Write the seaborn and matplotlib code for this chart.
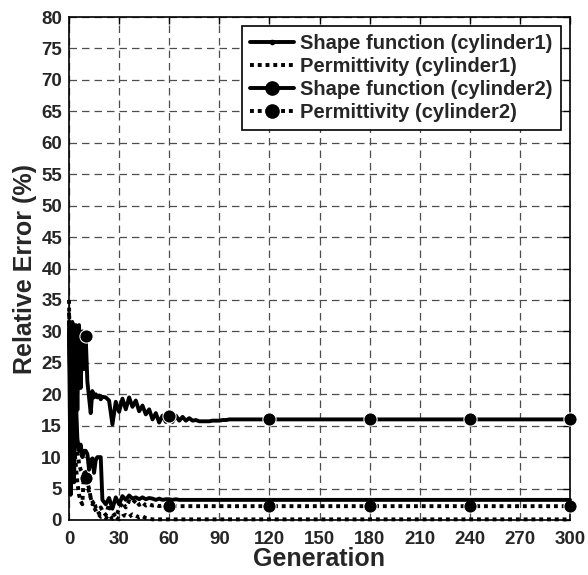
import matplotlib
matplotlib.use("Agg")
import matplotlib.pyplot as plt
from matplotlib.lines import Line2D
import seaborn as sns
import pandas as pd

# Generations at which the relative error was recorded
generations = (
    [0, 1, 2, 3, 4, 5, 6, 7, 8, 9, 10, 11, 12, 13, 14, 15, 16, 17, 18, 19, 20]
    + [22, 24, 26, 28, 30, 32, 34, 36, 38, 40, 42, 44, 46, 48, 50, 52, 54, 56, 58, 60]
    + [62, 64, 66, 68, 70, 72, 74, 76, 78, 80, 82, 84, 86, 88, 90, 92, 94, 96, 98, 100]
    + [120, 180, 240, 300]
)

shape_cyl1 = (
    [30.0, 4.0, 28.0, 6.0, 20.0, 13.0, 11.0, 12.0, 10.0, 11.0, 11.0, 10.5, 8.0, 9.5, 9.8, 7.5, 9.5, 10.0, 10.0, 10.0, 3.2]
    + [2.5, 3.5, 1.8, 3.6, 2.5, 3.8, 3.2, 3.9, 3.4, 3.6, 3.3, 3.6, 3.3, 3.5, 3.4, 3.2, 3.4, 3.2, 3.3, 3.3]
    + [3.2, 3.3, 3.2, 3.2, 3.2, 3.2, 3.2, 3.2, 3.2, 3.2, 3.2, 3.2, 3.2, 3.2, 3.2, 3.2, 3.2, 3.2, 3.2, 3.2]
    + [3.2, 3.2, 3.2, 3.2]
)

perm_cyl1 = (
    [35.0, 16.0, 14.0, 12.0, 9.0, 6.0, 4.0, 3.0, 2.5, 8.0, 7.5, 6.0, 5.0, 3.5, 3.0, 2.0, 1.5, 1.0, 0.8, 0.5, 0.6]
    + [0.3, 0.8, 0.2, 0.5, 0.1, 0.6, 0.8, 0.5, 0.9, 0.7, 0.4, 0.6, 0.3, 0.2, 0.1, 0.1, 0.1, 0.1, 0.1, 0.1]
    + [0.1, 0.1, 0.1, 0.1, 0.1, 0.1, 0.1, 0.1, 0.1, 0.1, 0.1, 0.1, 0.1, 0.1, 0.1, 0.1, 0.1, 0.1, 0.1, 0.1]
    + [0.1, 0.1, 0.1, 0.1]
)

shape_cyl2 = (
    [31.5, 17.0, 31.5, 18.0, 31.0, 17.5, 31.0, 21.0, 30.0, 24.0, 29.2, 22.0, 19.5, 17.0, 20.5, 19.5, 20.0, 19.5, 19.8, 19.2, 19.6]
    + [19.5, 19.0, 15.2, 18.8, 17.2, 19.3, 17.6, 19.5, 18.0, 19.0, 17.3, 18.2, 16.8, 17.6, 16.0, 17.0, 15.5, 16.6, 15.6, 16.6]
    + [15.6, 16.6, 15.8, 16.4, 15.8, 16.2, 15.8, 15.9, 15.7, 15.7, 15.7, 15.7, 15.8, 15.8, 15.8, 15.9, 15.9, 16.0, 16.0, 16.0]
    + [16.0, 16.0, 16.0, 16.0]
)

perm_cyl2 = (
    [33.0, 17.0, 15.0, 13.0, 12.0, 11.0, 9.0, 8.0, 7.5, 7.0, 6.7, 5.5, 4.5, 3.5, 2.5, 3.0, 2.0, 1.5, 1.0, 2.0, 1.5]
    + [0.8, 2.5, 1.2, 0.5, 1.8, 2.8, 2.0, 3.0, 2.6, 3.2, 2.4, 2.8, 2.3, 2.5, 2.3, 2.4, 2.2, 2.3, 2.2, 2.2]
    + [2.2, 2.2, 2.2, 2.2, 2.2, 2.2, 2.2, 2.2, 2.2, 2.2, 2.2, 2.2, 2.2, 2.2, 2.2, 2.2, 2.2, 2.2, 2.2, 2.2]
    + [2.2, 2.2, 2.2, 2.2]
)

series_labels = [
    "Shape function (cylinder1)",
    "Permittivity (cylinder1)",
    "Shape function (cylinder2)",
    "Permittivity (cylinder2)",
]

x_ticks = [0, 30, 60, 90, 120, 150, 180, 210, 240, 270, 300]
y_ticks = [0, 5, 10, 15, 20, 25, 30, 35, 40, 45, 50, 55, 60, 65, 70, 75, 80]

sns.set_style("white")
plt.rcParams["font.family"] = ["Liberation Sans", "DejaVu Sans"]
plt.rcParams["font.weight"] = "bold"

df = pd.DataFrame({
    "Generation": generations,
    series_labels[0]: shape_cyl1,
    series_labels[1]: perm_cyl1,
    series_labels[2]: shape_cyl2,
    series_labels[3]: perm_cyl2,
})

fig = plt.figure(figsize=(5.88, 5.75), dpi=100)
ax = fig.add_axes([69 / 588, 55 / 575, 501 / 588, 503 / 575])

# circle markers at generations 10, 60, 120, 180, 240, 300
mark_idx = [generations.index(g) for g in (10, 60, 120, 180, 240, 300)]

lw = 2.8
dots = (1, 1)
styles = [
    dict(linestyle="-"),
    dict(linestyle=(0, dots), dash_capstyle="butt"),
    dict(linestyle="-", marker="o", markersize=9.5, markevery=mark_idx),
    dict(linestyle=(0, dots), dash_capstyle="butt", marker="o", markersize=9.5, markevery=mark_idx),
]
for i in [2, 3, 0, 1]:
    sns.lineplot(data=df, x="Generation", y=series_labels[i], ax=ax, color="black",
                 linewidth=lw, clip_on=False, zorder=3, **styles[i])

ax.set_xlim(0, 300)
ax.set_ylim(0, 80)
ax.set_xticks(x_ticks)
ax.set_yticks(y_ticks)
ax.tick_params(direction="in", length=5, width=1, top=True, right=True,
               labelsize=13.5, color="black")
ax.tick_params(axis="x", pad=8)
ax.tick_params(axis="y", pad=5)
for lab in ax.get_xticklabels() + ax.get_yticklabels():
    lab.set_fontweight("bold")

ax.grid(True, color="0.3", linestyle=(0, (6, 4)), linewidth=0.9)
for sp in ax.spines.values():
    sp.set_color("black")
    sp.set_linewidth(1.2)

ax.set_xlabel("Generation", fontsize=18, fontweight="bold", labelpad=-1)
ax.set_ylabel("Relative Error (%)", fontsize=18, fontweight="bold", labelpad=3)

handles = [
    Line2D([], [], color="black", lw=lw, marker=".", markersize=6),
    Line2D([], [], color="black", lw=lw, linestyle=(0, dots), dash_capstyle="butt"),
    Line2D([], [], color="black", lw=lw, marker="o", markersize=9.5),
    Line2D([], [], color="black", lw=lw, linestyle=(0, dots), dash_capstyle="butt",
           marker="o", markersize=9.5),
]
leg = ax.legend(handles, series_labels, loc="upper right",
                prop={"weight": "bold", "size": 14.5}, frameon=True, fancybox=False,
                edgecolor="black", framealpha=1, handlelength=2.2, handletextpad=0.3,
                borderpad=0.4, labelspacing=0.2, borderaxespad=0.45)
leg.get_frame().set_linewidth(1.2)

fig.savefig("out.png", dpi=100)
